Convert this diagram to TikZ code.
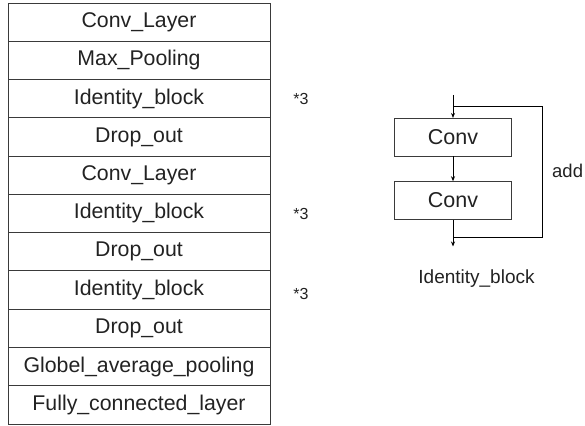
\documentclass[tikz,border=0pt]{standalone}
\usepackage{fontspec}
\setmainfont{Liberation Sans}
\usetikzlibrary{arrows.meta}
\definecolor{linec}{HTML}{3A3A3A}
\definecolor{textc}{HTML}{222222}
\tikzset{
  rowbox/.style={draw=linec, line width=0.8pt, minimum width=262pt, minimum height=38.27pt, inner sep=0pt, text=textc, font=\fontsize{21.3}{24}\selectfont},
  convbox/.style={draw=linec, line width=0.8pt, minimum width=117.5pt, minimum height=37.7pt, inner sep=0pt, text=textc, font=\fontsize{21.5}{24}\selectfont},
  times/.style={text=textc, font=\fontsize{16}{18}\selectfont, inner sep=0pt},
  lbl/.style={text=textc, inner sep=0pt},
  conn/.style={draw=black, line width=0.9pt},
  arr/.style={conn, -{Stealth[length=5pt,width=4pt]}}
}
\begin{document}
\begin{tikzpicture}[x=1pt,y=-1pt]
\useasboundingbox (0,0) rectangle (585,425);
% left column
\foreach \i/\t [count=\k from 0] in {r1/Conv\_Layer, r2/Max\_Pooling, r3/Identity\_block, r4/Drop\_out, r5/Conv\_Layer, r6/Identity\_block, r7/Drop\_out, r8/Identity\_block, r9/Drop\_out, r10/Globel\_average\_pooling, r11/Fully\_connected\_layer}{
  \node[rowbox] (\i) at (139, {3+38.27*(\k+0.5)}) {\t};
}
\node[times] (m1) at (301,99) {*3};
\node[times] (m2) at (301,214) {*3};
\node[times] (m3) at (301,293.5) {*3};
% identity block
\node[convbox] (c1) at (453,137.2) {Conv};
\node[convbox] (c2) at (453,200.5) {Conv};
\coordinate (top) at (453,95);
\coordinate (split) at (453,106.5);
\coordinate (tr) at (542,106.5);
\coordinate (br) at (542,237);
\coordinate (join) at (453,237);
\coordinate (out) at (453,246.5);
\draw[arr] (top) -- (c1.north);
\draw[arr] (c1.south) -- (c2.north);
\draw[arr] (c2.south) -- (out);
\draw[conn] (split) -- (tr) -- (br) -- (join);
\node[lbl, anchor=west, font=\fontsize{18.5}{22}\selectfont] (add) at (552,171) {add};
\node[lbl, font=\fontsize{19}{21}\selectfont] (idl) at (476.5,279) {Identity\_block};
\end{tikzpicture}
\end{document}
